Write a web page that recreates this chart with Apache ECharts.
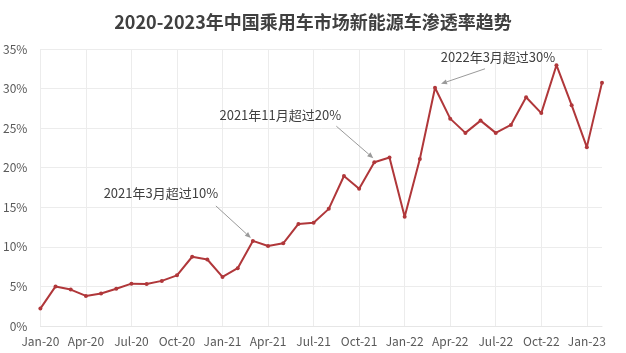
<!DOCTYPE html>
<html>
<head>
<meta charset="utf-8">
<script src="https://cdn.jsdelivr.net/npm/echarts@6/dist/echarts.min.js"></script>
<style>
html,body{margin:0;padding:0;background:#fff;}
#main{width:626px;height:353px;}
</style>
</head>
<body>
<div id="main"></div>
<script>
var categories = ['Jan-20','Feb-20','Mar-20','Apr-20','May-20','Jun-20','Jul-20','Aug-20','Sep-20','Oct-20','Nov-20','Dec-20',
  'Jan-21','Feb-21','Mar-21','Apr-21','May-21','Jun-21','Jul-21','Aug-21','Sep-21','Oct-21','Nov-21','Dec-21',
  'Jan-22','Feb-22','Mar-22','Apr-22','May-22','Jun-22','Jul-22','Aug-22','Sep-22','Oct-22','Nov-22','Dec-22',
  'Jan-23','Feb-23'];
var penetration = [2.2, 5.0, 4.6, 3.8, 4.1, 4.7, 5.35, 5.3, 5.7, 6.4, 8.75, 8.4,
  6.2, 7.3, 10.75, 10.1, 10.45, 12.9, 13.05, 14.8, 18.95, 17.35, 20.7, 21.3,
  13.8, 21.1, 30.1, 26.2, 24.4, 25.95, 24.4, 25.4, 28.9, 26.9, 32.95, 27.9,
  22.6, 30.75];
var yTicks = [0, 5, 10, 15, 20, 25, 30, 35];
var annotations = [
  {month: 'Mar-21', text: '2021年3月超过10%'},
  {month: 'Nov-21', text: '2021年11月超过20%'},
  {month: 'Mar-22', text: '2022年3月超过30%'}
];
// pixel offsets of annotation parts relative to the anchored data point (styling)
var annotOffsets = [
  {tx: -92, ty: -48, sx: -37, sy: -35, ex: -2, ey: -3},
  {tx: -94, ty: -47, sx: -38, sy: -36, ex: -1, ey: -4},
  {tx: 63, ty: -31, sx: 50, sy: -19, ex: 6, ey: -4}
];

var font = '"Noto Sans CJK SC", "Noto Sans", sans-serif';
var chart = echarts.init(document.getElementById('main'), null, {renderer: 'canvas'});
var option = {
  animation: false,
  backgroundColor: '#ffffff',
  title: {
    text: '2020-2023年中国乘用车市场新能源车渗透率趋势',
    left: 'center',
    top: 8,
    textStyle: {fontFamily: font, fontSize: 18, fontWeight: 'bold', color: '#404040'}
  },
  grid: {left: 40, right: 24, top: 49, bottom: 27, containLabel: false},
  xAxis: {
    type: 'category',
    data: categories,
    boundaryGap: false,
    axisLine: {show: true, lineStyle: {color: '#e6e6e6'}},
    axisTick: {show: false},
    axisLabel: {interval: 2, color: '#595959', fontSize: 12, fontFamily: font, margin: 9},
    splitLine: {show: true, interval: 2, lineStyle: {color: '#ececec', width: 1}}
  },
  yAxis: {
    type: 'value',
    min: yTicks[0],
    max: yTicks[yTicks.length - 1],
    interval: 5,
    axisLine: {show: false},
    axisTick: {show: false},
    axisLabel: {formatter: '{value}%', color: '#595959', fontSize: 12, fontFamily: font, margin: 13},
    splitLine: {show: true, lineStyle: {color: '#ececec', width: 1}}
  },
  series: [{
    type: 'line',
    data: penetration,
    symbol: 'circle',
    symbolSize: 4,
    lineStyle: {color: '#b0373a', width: 2},
    itemStyle: {color: '#b0373a'},
    z: 3
  }]
};
chart.setOption(option);

var graphics = [];
annotations.forEach(function (a, i) {
  var idx = categories.indexOf(a.month);
  var p = chart.convertToPixel({seriesIndex: 0}, [idx, penetration[idx]]);
  var o = annotOffsets[i];
  var sx = p[0] + o.sx, sy = p[1] + o.sy, ex = p[0] + o.ex, ey = p[1] + o.ey;
  var ang = Math.atan2(ey - sy, ex - sx);
  var L = 6, W = 2.5;
  var bx = ex - L * Math.cos(ang), by = ey - L * Math.sin(ang);
  graphics.push({
    type: 'line', silent: true, z: 10,
    shape: {x1: sx, y1: sy, x2: bx, y2: by},
    style: {stroke: '#9a9a9a', lineWidth: 1}
  });
  graphics.push({
    type: 'polygon', silent: true, z: 10,
    shape: {points: [[ex, ey],
      [bx + W * Math.sin(ang), by - W * Math.cos(ang)],
      [bx - W * Math.sin(ang), by + W * Math.cos(ang)]]},
    style: {fill: '#9a9a9a'}
  });
  graphics.push({
    type: 'text', silent: true, z: 10,
    x: p[0] + o.tx, y: p[1] + o.ty,
    style: {text: a.text, fill: '#404040', font: '13px ' + font, align: 'center', verticalAlign: 'middle'}
  });
});
chart.setOption({graphic: graphics});
</script>
</body>
</html>
